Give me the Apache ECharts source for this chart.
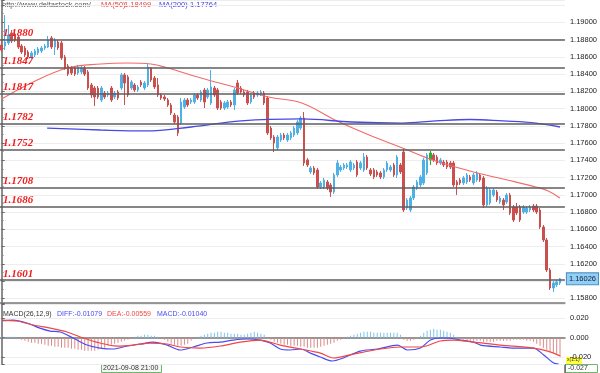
<!DOCTYPE html>
<html><head><meta charset="utf-8">
<script src="https://cdn.jsdelivr.net/npm/echarts@6/dist/echarts.min.js"></script>
<style>html,body{margin:0;padding:0;background:#fff}#c{width:600px;height:373px}</style>
</head><body><div id="c"></div>
<script>
// [open, close, low, high]
const candles = [
[1.18736,1.18678,1.18655,1.18783],[1.18725,1.18771,1.18678,1.19084],[1.18760,1.18852,1.18736,1.18968],[1.18876,1.18783,1.18760,1.18910],
[1.18864,1.18794,1.18771,1.18887],[1.18829,1.18713,1.18690,1.18852],[1.18725,1.18655,1.18632,1.18748],[1.18702,1.18621,1.18597,1.18725],
[1.18655,1.18597,1.18574,1.18678],[1.18597,1.18644,1.18574,1.18667],[1.18621,1.18667,1.18597,1.18690],[1.18644,1.18690,1.18621,1.18713],
[1.18667,1.18702,1.18644,1.18725],[1.18702,1.18725,1.18678,1.18748],[1.18713,1.18794,1.18702,1.18841],[1.18818,1.18713,1.18690,1.18841],
[1.18713,1.18794,1.18621,1.18818],[1.18771,1.18702,1.18678,1.18794],[1.18760,1.18586,1.18563,1.18783],[1.18597,1.18470,1.18447,1.18621],
[1.18493,1.18400,1.18377,1.18516],[1.18470,1.18412,1.18389,1.18493],[1.18470,1.18400,1.18377,1.18493],[1.18412,1.18481,1.18389,1.18505],
[1.18424,1.18470,1.18400,1.18493],[1.18470,1.18400,1.18377,1.18493],[1.18424,1.18238,1.18215,1.18447],[1.18273,1.18157,1.18122,1.18296],
[1.18238,1.18134,1.18029,1.18261],[1.18238,1.18134,1.18111,1.18261],[1.18099,1.18238,1.18076,1.18261],[1.18180,1.18134,1.18111,1.18203],
[1.18157,1.18180,1.18134,1.18203],[1.18238,1.18099,1.18076,1.18261],[1.18134,1.18180,1.18111,1.18203],[1.18192,1.18122,1.18099,1.18215],
[1.18238,1.18389,1.18215,1.18412],[1.18389,1.18296,1.18041,1.18412],[1.18366,1.18157,1.18134,1.18389],[1.18238,1.18308,1.18215,1.18331],
[1.18273,1.18215,1.18192,1.18296],[1.18215,1.18250,1.18192,1.18273],[1.18308,1.18273,1.18250,1.18331],[1.18238,1.18296,1.18215,1.18319],
[1.18273,1.18481,1.18250,1.18516],[1.18470,1.18331,1.18308,1.18481],[1.18354,1.18250,1.18226,1.18377],[1.18273,1.18157,1.18134,1.18354],
[1.18157,1.18122,1.18099,1.18180],[1.18134,1.18111,1.18087,1.18157],[1.18099,1.18041,1.18018,1.18122],[1.18041,1.17948,1.17925,1.18064],
[1.17925,1.17844,1.17821,1.17948],[1.17902,1.17717,1.17682,1.17925],[1.17832,1.18076,1.17809,1.18122],[1.18018,1.18099,1.17995,1.18122],
[1.18099,1.18041,1.18018,1.18122],[1.18076,1.18099,1.18053,1.18122],[1.18076,1.18157,1.18053,1.18180],[1.18157,1.18122,1.18099,1.18180],
[1.18099,1.18192,1.18076,1.18215],[1.18215,1.18076,1.18006,1.18238],[1.18134,1.18215,1.18111,1.18238],[1.18064,1.18250,1.18041,1.18447],
[1.18238,1.18157,1.18134,1.18261],[1.18215,1.18006,1.17983,1.18238],[1.18076,1.18006,1.17983,1.18099],[1.18006,1.18064,1.17983,1.18087],
[1.18018,1.18076,1.17995,1.18099],[1.18076,1.18041,1.18018,1.18099],[1.18041,1.18215,1.17983,1.18238],[1.18296,1.18180,1.18157,1.18331],
[1.18238,1.18192,1.18169,1.18261],[1.18192,1.18157,1.18134,1.18215],[1.18192,1.18064,1.18041,1.18215],[1.18076,1.18157,1.18053,1.18180],
[1.18180,1.18134,1.18111,1.18203],[1.18157,1.18180,1.18134,1.18203],[1.18169,1.18192,1.18145,1.18215],[1.18180,1.18064,1.18041,1.18203],
[1.18122,1.17717,1.17693,1.18145],[1.17774,1.17659,1.17635,1.17798],[1.17670,1.17601,1.17496,1.17693],[1.17543,1.17670,1.17519,1.17693],
[1.17635,1.17693,1.17612,1.17717],[1.17693,1.17659,1.17635,1.17717],[1.17635,1.17693,1.17612,1.17717],[1.17659,1.17717,1.17635,1.17740],
[1.17693,1.17774,1.17670,1.17798],[1.17717,1.17844,1.17693,1.17867],[1.17774,1.17890,1.17751,1.17914],[1.17890,1.17369,1.17334,1.17960],
[1.17404,1.17346,1.17322,1.17427],[1.17265,1.17311,1.17241,1.17334],[1.17311,1.17253,1.17230,1.17334],[1.17288,1.17091,1.17067,1.17311],
[1.17091,1.17137,1.17067,1.17160],[1.17091,1.17172,1.17067,1.17195],[1.17149,1.17079,1.17056,1.17172],[1.17114,1.17033,1.16975,1.17137],
[1.17033,1.17230,1.17010,1.17253],[1.17230,1.17369,1.17207,1.17404],[1.17288,1.17322,1.17265,1.17346],[1.17311,1.17346,1.17288,1.17369],
[1.17322,1.17346,1.17299,1.17369],[1.17288,1.17380,1.17265,1.17404],[1.17311,1.17346,1.17288,1.17369],[1.17380,1.17230,1.17207,1.17404],
[1.17311,1.17369,1.17288,1.17392],[1.17288,1.17438,1.17265,1.17485],[1.17438,1.17311,1.17288,1.17462],[1.17288,1.17241,1.17218,1.17311],
[1.17288,1.17207,1.17183,1.17311],[1.17265,1.17230,1.17207,1.17288],[1.17253,1.17207,1.17183,1.17276],[1.17207,1.17288,1.17183,1.17311],
[1.17288,1.17369,1.17265,1.17392],[1.17288,1.17322,1.17265,1.17346],[1.17346,1.17230,1.17207,1.17369],[1.17230,1.17438,1.17195,1.17462],
[1.17346,1.17265,1.17241,1.17369],[1.17496,1.16824,1.16801,1.17543],[1.16847,1.16940,1.16824,1.16963],[1.16824,1.16963,1.16801,1.16986],
[1.16963,1.17091,1.16940,1.17114],[1.17079,1.17149,1.17056,1.17172],[1.17114,1.17207,1.17091,1.17230],[1.17137,1.17404,1.17114,1.17427],
[1.17253,1.17462,1.17230,1.17485],[1.17404,1.17485,1.17346,1.17508],[1.17462,1.17404,1.17380,1.17485],[1.17438,1.17369,1.17346,1.17462],
[1.17369,1.17404,1.17346,1.17427],[1.17380,1.17346,1.17322,1.17404],[1.17380,1.17322,1.17299,1.17404],[1.17369,1.17322,1.17299,1.17392],
[1.17369,1.17114,1.17091,1.17392],[1.17149,1.17114,1.16998,1.17172],[1.17172,1.17137,1.17114,1.17195],[1.17137,1.17195,1.17114,1.17218],
[1.17149,1.17230,1.17125,1.17253],[1.17207,1.17172,1.17149,1.17230],[1.17137,1.17230,1.17114,1.17253],[1.17172,1.17253,1.17149,1.17276],
[1.17230,1.17172,1.17149,1.17253],[1.17195,1.16882,1.16847,1.17218],[1.16882,1.17079,1.16859,1.17102],[1.16905,1.17056,1.16882,1.17079],
[1.16998,1.17056,1.16975,1.17079],[1.17033,1.16940,1.16917,1.17056],[1.16917,1.16963,1.16894,1.16986],[1.16940,1.16882,1.16824,1.16963],
[1.16917,1.16998,1.16894,1.17021],[1.16998,1.16789,1.16766,1.17021],[1.16859,1.16708,1.16685,1.16882],[1.16859,1.16789,1.16766,1.16905],
[1.16859,1.16708,1.16685,1.16882],[1.16801,1.16859,1.16778,1.16882],[1.16801,1.16847,1.16778,1.16870],[1.16824,1.16859,1.16801,1.16882],
[1.16870,1.16824,1.16801,1.16894],[1.16870,1.16801,1.16778,1.16894],[1.16824,1.16627,1.16604,1.16847],[1.16627,1.16476,1.16453,1.16650],
[1.16476,1.16129,1.16106,1.16500],[1.16129,1.15920,1.15897,1.16152],[1.15920,1.15978,1.15874,1.16001],[1.15955,1.15990,1.15932,1.16013],
[1.15978,1.16026,1.15955,1.16036]
];
const highlightedCandle = 129;

// MA lines: [candle index, value]
const ma50 = [[0,1.18111],[9.5,1.18308],[19.8,1.18470],[29.8,1.18516],[37.9,1.18528],[44.9,1.18516],[50,1.18470],[60,1.18354],
  [70,1.18250],[80.3,1.18134],[90.3,1.18064],[100.3,1.17867],[110.6,1.17693],[120.6,1.17543],[129.7,1.17403],[140.9,1.17276],
  [150.9,1.17183],[160.8,1.17091],[164.5,1.17044],[168,1.16963]];
const ma200 = [[13.7,1.17774],[29.8,1.17751],[43.4,1.17740],[57,1.17786],[72.1,1.17856],[90.3,1.17879],[105.4,1.17844],
  [120.6,1.17832],[130.6,1.17856],[140.9,1.17873],[150.9,1.17856],[160.8,1.17832],[168,1.17786]];

// MACD
const macdDiff = [[0.1,0.0176],[3.4,0.0183],[7.6,0.0152],[11.5,0.0100],[14.6,0.0069],[17.6,0.0059],[21.5,-0.0003],[25.7,-0.0076],
  [29.6,-0.0107],[33.5,-0.0117],[37.8,-0.0086],[41.7,-0.0065],[45.6,-0.0045],[49.8,-0.0076],[53.7,-0.0127],[57.6,-0.0096],
  [61.8,-0.0055],[65.8,-0.0045],[69.7,-0.0024],[73.9,-0.0013],[77.8,-0.0024],[80.8,-0.0055],[83.8,-0.0117],[86.8,-0.0127],
  [89.9,-0.0117],[92.9,-0.0159],[95.9,-0.0200],[99.5,-0.0241],[102.8,-0.0210],[107.9,-0.0138],[113.1,-0.0117],[119.1,-0.0076],
  [122.1,-0.0127],[126,-0.0107],[129,-0.0024],[132,-0.0003],[134.1,-0.0003],[138.1,-0.0024],[142,-0.0045],[144.1,-0.0076],
  [150.1,-0.0096],[154,-0.0107],[160,-0.0107],[163.1,-0.0179],[166.1,-0.0262],[167.6,-0.0272]];
const macdDea = [[0.1,0.0183],[4.6,0.0173],[9.4,0.0132],[14.6,0.0100],[19.7,0.0059],[24.5,-0.0003],[29.6,-0.0055],[34.7,-0.0086],
  [39.6,-0.0076],[44.7,-0.0055],[49.8,-0.0065],[53.7,-0.0096],[59.7,-0.0107],[65.8,-0.0086],[71.8,-0.0045],[77.8,-0.0024],
  [83.8,-0.0076],[89.9,-0.0117],[95.9,-0.0159],[99.8,-0.0210],[105.8,-0.0169],[114,-0.0117],[120,-0.0096],[126,-0.0096],
  [132,-0.0034],[135.9,-0.0024],[142,-0.0045],[150.1,-0.0076],[160,-0.0107],[164.3,-0.0138],[168.2,-0.0190]];
const macdHist = [
  0.001,0.001,0.001,0.001,0.001,0,
  -0.0021,-0.0031,-0.0042,-0.0052,-0.0052,-0.0062,-0.0062,-0.0073,-0.0083,-0.0083,-0.0093,-0.0093,-0.0104,-0.0104,-0.0104,-0.0114,-0.0114,-0.0124,-0.0124,-0.0135,-0.0135,-0.0135,-0.0135,-0.0124,
  -0.0114,-0.0104,-0.0083,-0.0073,-0.0062,-0.0052,-0.0042,-0.0031,-0.0021,-0.001,
  0.001,0.0021,0.0021,0.0031,0.0031,0.0021,0.0021,0.001,
  -0.001,-0.0021,-0.0042,-0.0062,-0.0073,-0.0083,-0.0083,-0.0073,-0.0062,
  -0.0031,0,
  0.001,0.0021,0.0031,0.0042,0.0052,0.0052,0.0062,0.0062,0.0052,0.0052,0.0042,0.0042,0.0042,0.0031,0.0031,0.0042,0.0052,0.0062,0.0052,0.0042,0.0031,
  -0.001,-0.0021,-0.0042,-0.0052,-0.0062,-0.0073,-0.0073,-0.0083,-0.0083,-0.0083,-0.0093,-0.0093,-0.0104,-0.0104,-0.0104,-0.0104,-0.0093,-0.0083,-0.0073,-0.0062,-0.0052,-0.0031,-0.0021,-0.001,
  0.001,0.0021,0.0031,0.0042,0.0052,0.0062,0.0062,0.0062,0.0052,0.0052,0.0052,0.0052,0.0052,0.0052,0.0052,0.0052,0.0031,
  -0.0021,-0.0031,-0.0031,-0.0021,-0.001,
  0.0021,0.0052,0.0073,0.0083,0.0093,0.0083,0.0083,0.0073,0.0062,0.0052,0.0031,0.001,
  -0.001,-0.0021,-0.0031,-0.0031,-0.0031,-0.0031,-0.0031,-0.0042,-0.0042,-0.0042,-0.0042,-0.0031,-0.0031,-0.0031,-0.0031,-0.0031,-0.0021,-0.0021,-0.0021,-0.0021,-0.0031,-0.0031,-0.0042,
  -0.0062,-0.0083,-0.0104,-0.0124,-0.0145,-0.0155,-0.0166,-0.0176
];

// support / resistance levels
const srLevels = [1.1880, 1.1847, 1.1817, 1.1782, 1.1752, 1.1708, 1.1686, 1.1601];
const srLabels = ['1.1880','1.1847','1.1817','1.1782','1.1752','1.1708','1.1686','1.1601'];

const categories = candles.map((_, i) => 'k' + i).concat(['k' + candles.length]);
const lastClose = candles[candles.length - 1][1];
const slots = categories.length;

const UP = '#4fb0e6', DOWN = '#c9504f', GREEN = '#33a833';
const FONT = 'Liberation Sans, Arial, sans-serif';

const candleData = candles.map((c, i) => i === highlightedCandle
  ? { value: c, itemStyle: { color: GREEN, color0: GREEN, borderColor: GREEN, borderColor0: GREEN } }
  : c);

const chart = echarts.init(document.getElementById('c'), null, { renderer: 'canvas' });
chart.setOption({
  animation: false,
  backgroundColor: '#fff',
  grid: [
    { left: 0, right: 35, top: 0, height: 303 },
    { left: 0, right: 35, top: 304, height: 60 }
  ],
  xAxis: [
    { type: 'category', gridIndex: 0, data: categories, boundaryGap: true,
      axisLine: { show: true, lineStyle: { color: '#777', width: 1.5 } }, axisTick: { show: false }, axisLabel: { show: false }, splitLine: { show: false } },
    { type: 'value', gridIndex: 0, min: -0.5, max: slots - 0.5, show: false },
    { type: 'category', gridIndex: 1, data: categories, boundaryGap: true,
      axisLine: { show: true, lineStyle: { color: '#777', width: 1.5 } }, axisTick: { show: false }, axisLabel: { show: false }, splitLine: { show: false } },
    { type: 'value', gridIndex: 1, min: -0.5, max: slots - 0.5, show: false }
  ],
  yAxis: [
    { type: 'value', gridIndex: 0, position: 'right', min: 1.15746, max: 1.19258, splitNumber: 17, scale: true,
      axisLine: { show: true, lineStyle: { color: '#666', width: 1.5 } },
      axisTick: { show: true, length: 3, lineStyle: { color: '#666' } },
      minorTick: { show: true, splitNumber: 2, length: 2, lineStyle: { color: '#888' } },
      axisLabel: { margin: 5, fontSize: 7.5, fontFamily: FONT, color: '#222',
        formatter: v => {
          const k = Math.round(v / 0.002) * 0.002;
          if (Math.abs(v - k) > 1e-7 || v > 1.1905 || Math.abs(v - 1.16) < 1e-7) return '';
          return v.toFixed(5);
        } },
      splitLine: { show: true, lineStyle: { color: '#ededed', width: 1 } } },
    { type: 'value', gridIndex: 1, position: 'right', min: -0.0272, max: 0.0349, splitNumber: 3, scale: true,
      axisLine: { show: true, lineStyle: { color: '#666', width: 1.5 } },
      axisTick: { show: true, length: 3, lineStyle: { color: '#666' } },
      axisLabel: { margin: 5, fontSize: 7.5, fontFamily: FONT, color: '#222',
        formatter: v => {
          const k = Math.round(v / 0.02) * 0.02;
          if (Math.abs(v - k) > 1e-7) return '';
          return v.toFixed(3);
        } },
      splitLine: { show: true, lineStyle: { color: '#ededed', width: 1 } } }
  ],
  series: [
    { type: 'candlestick', xAxisIndex: 0, yAxisIndex: 0, data: candleData, barWidth: 2,
      itemStyle: { color: UP, color0: DOWN, borderColor: UP, borderColor0: DOWN, borderWidth: 1 },
      markLine: {
        symbol: 'none', silent: true, animation: false, precision: 6,
        lineStyle: { color: '#5e5e5e', width: 1.5, type: 'solid' },
        label: { show: true, position: 'insideStartTop', formatter: '{b}', distance: [3, 1],
          color: '#f01c1c', fontFamily: 'Liberation Serif, DejaVu Serif, serif', fontStyle: 'italic', fontWeight: 'bold', fontSize: 11 },
        emphasis: { disabled: true },
        data: srLevels.map((v, i) => ({ yAxis: v, name: srLabels[i] })).concat([
          { yAxis: lastClose, name: lastClose.toFixed(5), lineStyle: { color: 'rgba(0,0,0,0)', width: 0 },
            label: { show: true, position: 'end', distance: 2, fontStyle: 'normal', fontWeight: 'normal', fontFamily: FONT, fontSize: 7.5,
              color: '#1a1a40', backgroundColor: '#8fd0f4', borderColor: '#4a8cc0', borderWidth: 1, padding: [2, 2, 1, 2] } }
        ])
      } },
    { type: 'line', name: 'MA(50)', xAxisIndex: 1, yAxisIndex: 0, data: ma50, smooth: 0.4, showSymbol: false,
      lineStyle: { color: '#f26a6a', width: 1.1 } },
    { type: 'line', name: 'MA(200)', xAxisIndex: 1, yAxisIndex: 0, data: ma200, smooth: 0.4, showSymbol: false,
      lineStyle: { color: '#4848e4', width: 1.3 } },
    { type: 'bar', xAxisIndex: 2, yAxisIndex: 1, data: macdHist, barWidth: 1,
      itemStyle: { color: p => p.value >= 0 ? '#7cc4ec' : '#d98a8a' } },
    { type: 'line', name: 'DIFF', xAxisIndex: 3, yAxisIndex: 1, data: macdDiff, smooth: 0.3, showSymbol: false,
      lineStyle: { color: '#4a4af2', width: 1.2 } },
    { type: 'line', name: 'DEA', xAxisIndex: 3, yAxisIndex: 1, data: macdDea, smooth: 0.3, showSymbol: false,
      lineStyle: { color: '#f04646', width: 1.2 } }
  ],
  graphic: [
    { type: 'text', x: 2, y: 1, style: { text: 'http://www.deltastock.com/', fill: '#555', font: '7.5px ' + FONT } },
    { type: 'text', x: 101, y: 1, style: { text: 'MA(50)', fill: '#e33c3c', font: '7.5px ' + FONT } },
    { type: 'text', x: 124, y: 1, style: { text: '1.18499', fill: '#e33c3c', font: '7.5px ' + FONT } },
    { type: 'text', x: 159, y: 1, style: { text: 'MA(200)', fill: '#3c3ce0', font: '7.5px ' + FONT } },
    { type: 'text', x: 190, y: 1, style: { text: '1.17764', fill: '#3c3ce0', font: '7.5px ' + FONT } },
    { type: 'text', x: 3, y: 311, style: { text: 'MACD(26,12,9)', fill: '#333', font: '7px ' + FONT } },
    { type: 'text', x: 57, y: 311, style: { text: 'DIFF:-0.01079', fill: '#4a4af2', font: '7px ' + FONT } },
    { type: 'text', x: 107, y: 311, style: { text: 'DEA:-0.00559', fill: '#f04646', font: '7px ' + FONT } },
    { type: 'text', x: 157, y: 311, style: { text: 'MACD:-0.01040', fill: '#4a4af2', font: '7px ' + FONT } },
    { type: 'rect', shape: { x: 101.5, y: 364.5, width: 60, height: 8 }, style: { fill: '#f6f6f6', stroke: '#6fb46f', lineWidth: 1 } },
    { type: 'text', x: 103, y: 365, style: { text: '2021-09-08 21:00', fill: '#333', font: '7px ' + FONT } },
    { type: 'rect', shape: { x: 565.5, y: 364.5, width: 32, height: 8 }, style: { fill: '#fff', stroke: '#6fb46f', lineWidth: 1 } },
    { type: 'text', x: 568, y: 365, style: { text: '-0.027', fill: '#333', font: '7px ' + FONT } },
    { type: 'rect', shape: { x: 566, y: 357, width: 16, height: 7 }, style: { fill: '#ffff3a' } },
    { type: 'text', x: 567, y: 357.5, style: { text: 'x(1.1)', fill: '#333', font: '5px ' + FONT } },
    { type: 'line', shape: { x1: 565, y1: 364, x2: 565, y2: 373 }, style: { stroke: '#666', lineWidth: 1.5 } }
  ]
});
</script></body></html>
